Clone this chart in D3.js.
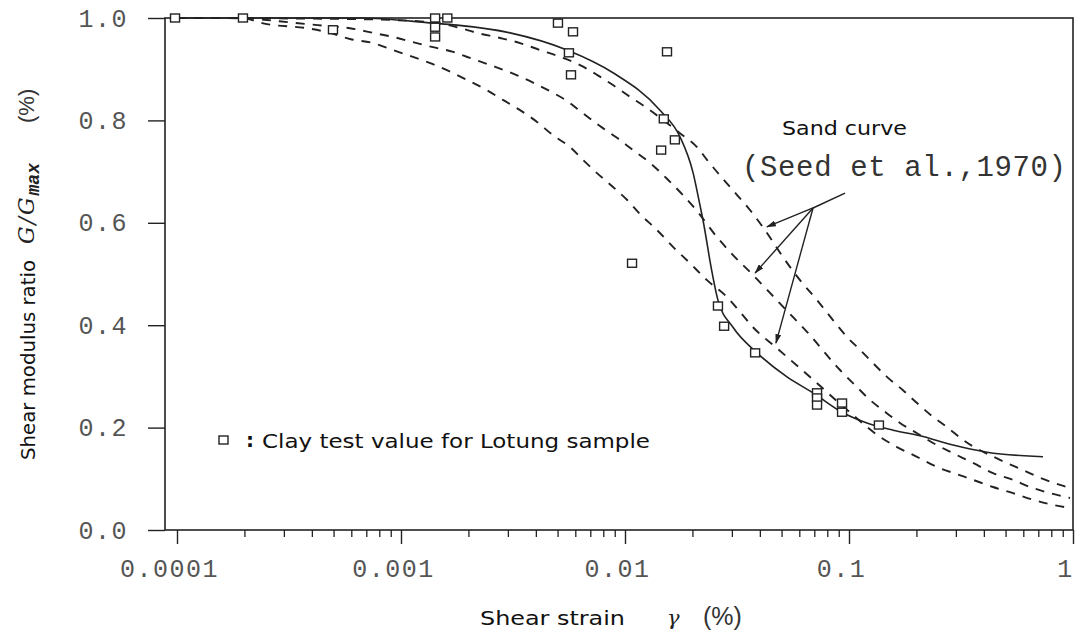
<!DOCTYPE html>
<html>
<head>
<meta charset="utf-8">
<script src="https://cdn.jsdelivr.net/npm/d3@7"></script>
<style>
  html, body { margin: 0; padding: 0; background: #fff; }
  svg { display: block; }
  .tick text { font-family: "Liberation Mono", monospace; font-size: 25px; fill: #555; letter-spacing: 1.5px; }
  .lbl { font-family: "DejaVu Sans", sans-serif; font-size: 20px; fill: #111; }
</style>
</head>
<body>
<svg id="chart" width="1079" height="636"></svg>
<script>
// ---- axis ticks ----
const xMajor = [0.0001, 0.001, 0.01, 0.1, 1];
const xMajorLabels = ["0.0001", "0.001", "0.01", "0.1", "1"];
const yTicks = [0, 0.2, 0.4, 0.6, 0.8, 1.0];
const yTickLabels = ["0.0", "0.2", "0.4", "0.6", "0.8", "1.0"];

// ---- clay test values, Lotung sample (shear strain %, G/Gmax) ----
const clayStrain = [0.000098, 0.000197, 0.000497, 0.00142, 0.00161, 0.00142, 0.00142,
                    0.00502, 0.00586, 0.00562, 0.00574, 0.0154, 0.0149, 0.0167, 0.0145,
                    0.01075, 0.0260, 0.0277, 0.0381, 0.072, 0.072, 0.072, 0.0931, 0.0931, 0.136];
const clayRatio  = [1.0, 1.0, 0.977, 1.0, 1.0, 0.982, 0.963,
                    0.990, 0.973, 0.932, 0.889, 0.934, 0.803, 0.762, 0.742,
                    0.521, 0.4375, 0.398, 0.346, 0.268, 0.258, 0.244, 0.248, 0.230, 0.205];

// ---- fitted clay curve (solid) ----
const fitStrain = [0.000093, 0.000656, 0.00139, 0.00178, 0.00307, 0.00551, 0.00884, 0.01433,
                   0.0176, 0.0201, 0.0216, 0.0223, 0.02445, 0.0260, 0.03035, 0.03885, 0.05286,
                   0.0691, 0.0931, 0.1203, 0.1572, 0.2075, 0.2912, 0.4131, 0.7346];
const fitRatio   = [1.0, 1.0, 0.990, 0.986, 0.971, 0.9375, 0.893, 0.820,
                    0.768, 0.699, 0.635, 0.605, 0.504, 0.449, 0.396, 0.346, 0.299,
                    0.268, 0.230, 0.209, 0.195, 0.184, 0.166, 0.152, 0.143];

// ---- sand curves, Seed et al. (1970) (dashed) ----
const sandUpperStrain = [0.0001, 0.000592, 0.00135, 0.00178, 0.00218, 0.00277, 0.0034, 0.00417,
                         0.00513, 0.0063, 0.0075, 0.00884, 0.01053, 0.01254, 0.01477, 0.0176,
                         0.02096, 0.02323, 0.02943, 0.03614, 0.04305, 0.05074, 0.06043, 0.072,
                         0.0848, 0.098, 0.112, 0.128, 0.1477, 0.1742, 0.2012, 0.2371, 0.2738,
                         0.3228, 0.4722, 0.5981, 0.7123, 0.875, 0.97];
const sandUpperRatio  = [1.0, 0.998, 0.992, 0.982, 0.971, 0.961, 0.951, 0.9375,
                         0.924, 0.908, 0.889, 0.869, 0.846, 0.824, 0.801, 0.775,
                         0.748, 0.723, 0.670, 0.625, 0.580, 0.533, 0.488, 0.449,
                         0.410, 0.377, 0.352, 0.326, 0.299, 0.273, 0.248, 0.221, 0.201,
                         0.176, 0.137, 0.117, 0.102, 0.088, 0.082];

const sandMidStrain = [0.0001, 0.000191, 0.000252, 0.000381, 0.000482, 0.000592, 0.00075, 0.000921,
                       0.00113, 0.00139, 0.00171, 0.00203, 0.00258, 0.0033, 0.00405, 0.00463,
                       0.00551, 0.00649, 0.00773, 0.00921, 0.01086, 0.01293, 0.0154, 0.01815,
                       0.02096, 0.02575, 0.03035, 0.03728, 0.0444, 0.05286, 0.06494, 0.0912,
                       0.1086, 0.1241, 0.1418, 0.1689, 0.2012, 0.2371, 0.2912, 0.3577, 0.4394,
                       0.5397, 0.6427, 0.7895, 0.97];
const sandMidRatio  = [1.0, 1.0, 0.996, 0.988, 0.984, 0.980, 0.971, 0.963,
                       0.953, 0.943, 0.934, 0.922, 0.906, 0.888, 0.870, 0.857,
                       0.838, 0.814, 0.789, 0.766, 0.742, 0.717, 0.686, 0.654,
                       0.623, 0.572, 0.537, 0.498, 0.463, 0.428, 0.387, 0.3125,
                       0.279, 0.254, 0.234, 0.209, 0.189, 0.170, 0.150, 0.131, 0.111,
                       0.098, 0.084, 0.072, 0.0625];

const sandLowerStrain = [0.0001, 0.000191, 0.000252, 0.000381, 0.000482, 0.000592, 0.00075, 0.000921,
                         0.00113, 0.00135, 0.00166, 0.00197, 0.00242, 0.00285, 0.0034, 0.00405,
                         0.00477, 0.00568, 0.00649, 0.0075, 0.00884, 0.0102, 0.01167, 0.01389,
                         0.01638, 0.01951, 0.02323, 0.02854, 0.03262, 0.03728, 0.0477, 0.067,
                         0.096, 0.1375, 0.1638, 0.2012, 0.2471, 0.3035, 0.3577, 0.4394, 0.5397,
                         0.6628, 0.8142, 0.97];
const sandLowerRatio  = [1.0, 1.0, 0.988, 0.980, 0.971, 0.959, 0.951, 0.9375,
                         0.924, 0.912, 0.895, 0.879, 0.859, 0.840, 0.820, 0.797,
                         0.771, 0.748, 0.723, 0.697, 0.670, 0.645, 0.617, 0.586,
                         0.553, 0.521, 0.488, 0.455, 0.426, 0.396, 0.355, 0.299,
                         0.238, 0.182, 0.162, 0.143, 0.123, 0.109, 0.098, 0.084, 0.072,
                         0.059, 0.049, 0.043];

// ---- "Sand curve" pointer: hub and three arrow tips (strain, ratio) ----
const pointerHub = [0.0691, 0.629];
const pointerTail = [0.096, 0.658];
const pointerTipStrain = [0.0430, 0.0381, 0.0472];
const pointerTipRatio = [0.592, 0.502, 0.365];

// ---- scales ----
const strainMin = 8.84e-5;
const x = d3.scaleLog().domain([strainMin, 1]).range([165, 1073]);
const y = d3.scaleLinear().domain([0, 1]).range([530, 18]);

const svg = d3.select("#chart");
svg.append("rect").attr("width", 1079).attr("height", 636).attr("fill", "#fff");

const ink = "#222";

// minor ticks on the strain axis
const xMinor = [];
for (let e = -4; e < 0; e++) {
  for (let m = 2; m <= 9; m++) xMinor.push(m * Math.pow(10, e));
}

const xAxisMinor = svg.append("g")
  .attr("transform", "translate(0,530)")
  .call(d3.axisBottom(x).tickValues(xMinor).tickSize(7).tickSizeOuter(0).tickFormat(""));
xAxisMinor.select(".domain").remove();
xAxisMinor.selectAll("line").attr("stroke", ink).attr("stroke-width", 1.3);

const xAxis = svg.append("g")
  .attr("transform", "translate(0,530)")
  .call(d3.axisBottom(x).tickValues(xMajor).tickSize(14).tickSizeOuter(0).tickPadding(15)
    .tickFormat((d, i) => xMajorLabels[i]));
xAxis.select(".domain").remove();
xAxis.selectAll("line").attr("stroke", ink).attr("stroke-width", 1.4);
xAxis.selectAll("text").attr("dx", -8);

const yAxis = svg.append("g")
  .attr("transform", "translate(165,0)")
  .call(d3.axisLeft(y).tickValues(yTicks).tickSize(17).tickSizeOuter(0).tickPadding(20)
    .tickFormat((d, i) => yTickLabels[i]));
yAxis.select(".domain").remove();
yAxis.selectAll("line").attr("stroke", ink).attr("stroke-width", 1.4);

// frame
svg.append("rect")
  .attr("x", x(strainMin)).attr("y", y(1))
  .attr("width", x(1) - x(strainMin)).attr("height", y(0) - y(1))
  .attr("fill", "none").attr("stroke", ink).attr("stroke-width", 1.6);

const toPts = (xs, ys) => xs.map((s, i) => [s, ys[i]]);
const line = d3.line().x(d => x(d[0])).y(d => y(d[1])).curve(d3.curveMonotoneX);

// sand curves
[[sandUpperStrain, sandUpperRatio], [sandMidStrain, sandMidRatio], [sandLowerStrain, sandLowerRatio]]
  .forEach(([s, r]) => {
    svg.append("path")
      .attr("d", line(toPts(s, r)))
      .attr("fill", "none").attr("stroke", ink)
      .attr("stroke-width", 1.9).attr("stroke-dasharray", "9,8");
  });

// fitted clay curve
svg.append("path")
  .attr("d", line(toPts(fitStrain, fitRatio)))
  .attr("fill", "none").attr("stroke", ink).attr("stroke-width", 1.6);

// clay test points
svg.append("g").selectAll("rect")
  .data(toPts(clayStrain, clayRatio))
  .join("rect")
  .attr("x", d => x(d[0]) - 4.5).attr("y", d => y(d[1]) - 4)
  .attr("width", 9).attr("height", 8)
  .attr("fill", "#fff").attr("stroke", ink).attr("stroke-width", 1.4);

// pointer arrows to the sand curves
svg.append("defs").append("marker")
  .attr("id", "head").attr("viewBox", "0 0 10 6")
  .attr("refX", 9).attr("refY", 3)
  .attr("markerWidth", 10).attr("markerHeight", 6)
  .attr("markerUnits", "userSpaceOnUse").attr("orient", "auto")
  .append("path").attr("d", "M0,0 L10,3 L0,6 Z").attr("fill", ink);

svg.append("line")
  .attr("x1", x(pointerHub[0])).attr("y1", y(pointerHub[1]))
  .attr("x2", x(pointerTail[0])).attr("y2", y(pointerTail[1]))
  .attr("stroke", ink).attr("stroke-width", 1.5);

pointerTipStrain.forEach((s, i) => {
  svg.append("line")
    .attr("x1", x(pointerHub[0])).attr("y1", y(pointerHub[1]))
    .attr("x2", x(s)).attr("y2", y(pointerTipRatio[i]))
    .attr("stroke", ink).attr("stroke-width", 1.4)
    .attr("marker-end", "url(#head)");
});

// annotations
svg.append("text").attr("class", "lbl").attr("x", 782).attr("y", 135)
  .attr("font-size", 21).attr("textLength", 125).attr("lengthAdjust", "spacingAndGlyphs")
  .text("Sand curve");
svg.append("text")
  .attr("x", 742).attr("y", 176)
  .attr("font-family", "Liberation Mono, monospace").attr("font-size", 29)
  .attr("fill", "#333").attr("textLength", 324).attr("lengthAdjust", "spacing")
  .text("(Seed et al.,1970)");

// legend
svg.append("rect").attr("x", 219).attr("y", 436).attr("width", 9).attr("height", 8)
  .attr("fill", "#fff").attr("stroke", ink).attr("stroke-width", 1.4);
svg.append("text").attr("class", "lbl").attr("x", 246).attr("y", 447)
  .attr("font-weight", "bold").attr("font-size", 20).text(":");
svg.append("text").attr("class", "lbl").attr("x", 262).attr("y", 448)
  .attr("font-size", 21).attr("textLength", 388).attr("lengthAdjust", "spacingAndGlyphs")
  .text("Clay test value for Lotung sample");

// axis titles
svg.append("text").attr("class", "lbl").attr("x", 480).attr("y", 625)
  .attr("font-size", 21).attr("textLength", 145).attr("lengthAdjust", "spacingAndGlyphs")
  .text("Shear strain");
svg.append("text").attr("x", 667).attr("y", 625)
  .attr("font-family", "DejaVu Serif, serif").attr("font-style", "italic")
  .attr("font-size", 21).attr("fill", "#222").text("γ");
svg.append("text").attr("x", 703).attr("y", 625)
  .attr("font-family", "Liberation Sans, sans-serif")
  .attr("font-size", 25).attr("fill", "#333").text("(%)");

svg.append("text").attr("class", "lbl")
  .attr("transform", "translate(35,460) rotate(-90)")
  .attr("textLength", 200).attr("lengthAdjust", "spacingAndGlyphs")
  .text("Shear modulus ratio");
const gt = svg.append("text")
  .attr("transform", "translate(34,244) rotate(-90)")
  .attr("fill", "#222");
gt.append("tspan").attr("font-family", "DejaVu Serif, serif").attr("font-style", "italic")
  .attr("font-size", 22).attr("letter-spacing", 2).text("G/G");
gt.append("tspan").attr("font-family", "Liberation Mono, monospace").attr("font-weight", "bold")
  .attr("font-style", "italic").attr("font-size", 18).attr("dy", 5).text("max");
svg.append("text")
  .attr("transform", "translate(34,123) rotate(-90)")
  .attr("font-family", "Liberation Sans, sans-serif")
  .attr("font-size", 22).attr("fill", "#333").text("(%)");
</script>
</body>
</html>
